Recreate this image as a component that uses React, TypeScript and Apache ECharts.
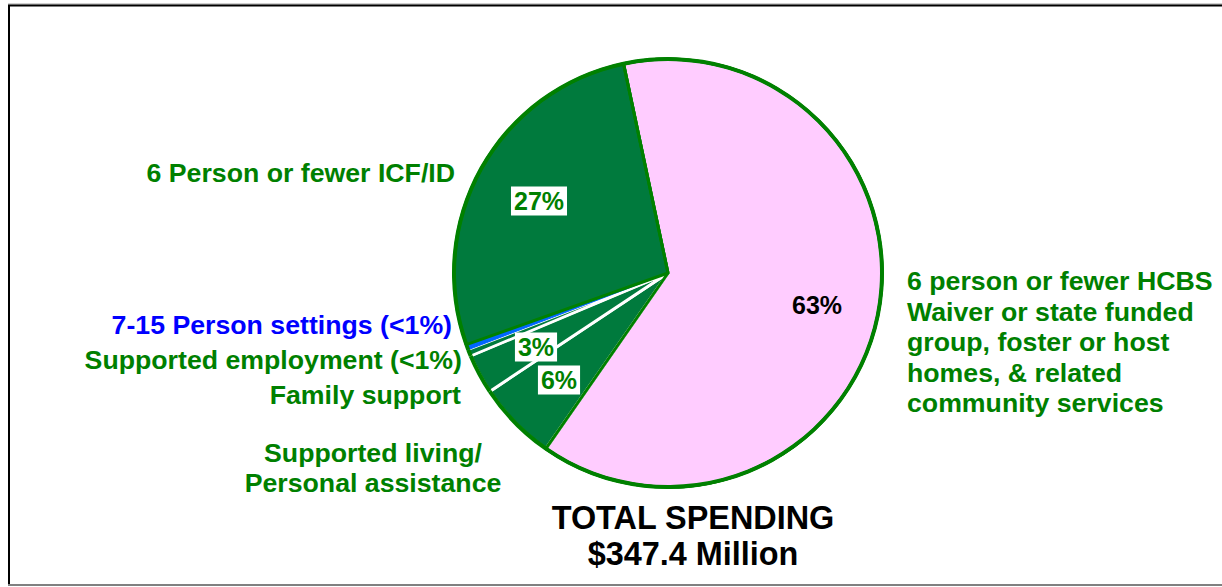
import React, { useEffect, useRef } from "react";
import * as echarts from "echarts";

// ---- data ----
const categories = [
  "6 person or fewer HCBS Waiver or state funded group, foster or host homes, & related community services",
  "Supported living/Personal assistance",
  "Family support",
  "Supported employment (<1%)",
  "7-15 Person settings (<1%)",
  "6 Person or fewer ICF/ID",
];
const shares = [63.0, 6.0, 3.0, 0.5, 0.4, 27.1];
const pctLabels = ["63%", "6%", "3%", "", "", "27%"];
const categoryLabelLines = [
  ["6 person or fewer HCBS", "Waiver or state funded", "group, foster or host", "homes, & related", "community services"],
  ["Supported living/", "Personal assistance"],
  ["Family support"],
  ["Supported employment (<1%)"],
  ["7-15 Person settings (<1%)"],
  ["6 Person or fewer ICF/ID"],
];
const totalTitle = ["TOTAL SPENDING", "$347.4 Million"];

// ---- styles / layout ----
const GREEN_TEXT = "#008000";
const sliceColors = ["#FFCCFF", "#007A3D", "#007A3D", "#007A3D", "#0066FF", "#007A3D"];
const sliceBorders = ["#008000", "#ffffff", "#ffffff", "#ffffff", "#0066FF", "#008000"];
const sliceBorderWidths = [3, 3, 3, 2.5, 1, 3];
const pctLabelPos: (number[] | null)[] = [[817, 305], [559, 380], [536, 347], null, null, [539, 201]];
const labelColors = ["#008000", "#008000", "#008000", "#008000", "#0000FF", "#008000"];
// anchor: [x, firstLineY, lineHeight, align]
const catLabelAnchors: [number, number, number, string][] = [
  [907, 281, 30.5, "left"],
  [373, 453, 30, "center"],
  [461, 395, 30, "right"],
  [462, 360, 30, "right"],
  [452, 325, 30, "right"],
  [455, 173, 30, "right"],
];
const CENTER = [668, 273];
const RADIUS = 214;
const LABEL_FONT = "bold 26.7px 'Liberation Sans', Arial, sans-serif";
const TITLE_FONT = "bold 32.4px 'Liberation Sans', Arial, sans-serif";

export default function App() {
  const ref = useRef<HTMLDivElement>(null);
  useEffect(() => {
    if (!ref.current) return;
    const chart = echarts.init(ref.current, undefined, { renderer: "svg" });

    const baseData = shares.map((v, i) => ({
      name: categories[i],
      value: v,
      itemStyle: { color: sliceColors[i], borderColor: sliceBorders[i], borderWidth: sliceBorderWidths[i] },
      label: pctLabels[i]
        ? {
            show: true,
            formatter: pctLabels[i],
            color: i === 0 ? "#000000" : GREEN_TEXT,
            backgroundColor: i === 0 ? "transparent" : "#ffffff",
            padding: i === 0 ? 0 : [3, 3, 1, 3],
          }
        : { show: false },
    }));

    const overlayData = shares.map((v, i) => ({
      name: categories[i],
      value: v,
      itemStyle: {
        color: "rgba(0,0,0,0)",
        borderColor: i === 0 ? "#008000" : "rgba(0,0,0,0)",
        borderWidth: i === 0 ? 3 : 0,
      },
    }));

    const ringData = shares.map((v, i) => ({
      name: categories[i],
      value: v,
      itemStyle: { color: "#008000" },
    }));

    const graphics: any[] = [];
    catLabelAnchors.forEach(([x, y0, lh, align], i) => {
      categoryLabelLines[i].forEach((line, j) => {
        graphics.push({
          type: "text",
          x,
          y: y0 + j * lh,
          style: {
            text: line,
            fill: labelColors[i],
            font: LABEL_FONT,
            textAlign: align,
            textVerticalAlign: "middle",
          },
        });
      });
    });
    totalTitle.forEach((t, j) => {
      graphics.push({
        type: "text",
        x: 693,
        y: 518 + j * 36,
        style: {
          text: t,
          fill: "#000000",
          font: TITLE_FONT,
          textAlign: "center",
          textVerticalAlign: "middle",
        },
      });
    });
    // frame
    graphics.push(
      { type: "line", shape: { x1: 8, y1: 4, x2: 1222, y2: 4 }, style: { stroke: "#a0a0a0", lineWidth: 1 } },
      { type: "line", shape: { x1: 8, y1: 5.5, x2: 1222, y2: 5.5 }, style: { stroke: "#000000", lineWidth: 2 } },
      { type: "line", shape: { x1: 9, y1: 5, x2: 9, y2: 585 }, style: { stroke: "#000000", lineWidth: 2 } },
      { type: "line", shape: { x1: 8, y1: 585, x2: 1222, y2: 585 }, style: { stroke: "#808080", lineWidth: 2 } }
    );

    chart.setOption({
      animation: false,
      backgroundColor: "#ffffff",
      graphic: graphics,
      series: [
        {
          type: "pie",
          center: CENTER,
          radius: RADIUS,
          startAngle: 102,
          clockwise: true,
          avoidLabelOverlap: false,
          silent: true,
          labelLine: { show: false },
          label: {
            position: "inside",
            fontFamily: "'Liberation Sans', Arial, sans-serif",
            fontWeight: "bold",
            fontSize: 25,
            align: "center",
            verticalAlign: "middle",
          },
          labelLayout: (p: any) => {
            const pos = pctLabelPos[p.dataIndex];
            return pos ? { x: pos[0], y: pos[1], align: "center", verticalAlign: "middle" } : {};
          },
          data: baseData,
          z: 2,
        },
        {
          type: "pie",
          center: CENTER,
          radius: RADIUS,
          startAngle: 102,
          clockwise: true,
          silent: true,
          label: { show: false },
          labelLine: { show: false },
          data: overlayData,
          z: 3,
        },
        {
          type: "pie",
          center: CENTER,
          radius: [RADIUS - 2, RADIUS + 2],
          startAngle: 102,
          clockwise: true,
          silent: true,
          label: { show: false },
          labelLine: { show: false },
          itemStyle: { borderWidth: 0 },
          data: ringData,
          z: 4,
        },
      ],
    });
    return () => chart.dispose();
  }, []);
  return (
    <div
      ref={ref}
      style={{ position: "fixed", left: 0, top: 0, width: 1222, height: 587, background: "#fff" }}
    />
  );
}
